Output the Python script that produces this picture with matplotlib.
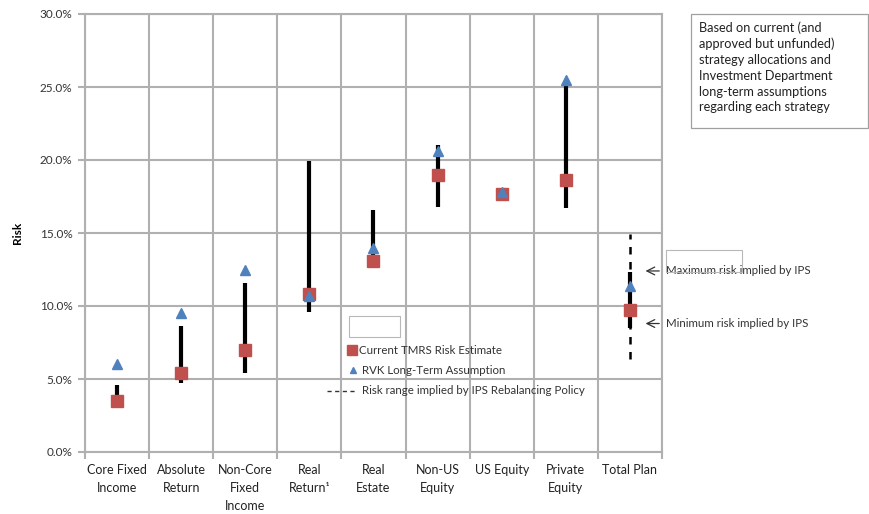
import matplotlib.pyplot as plt
from matplotlib.lines import Line2D
from matplotlib.patches import Rectangle

plt.rcParams['font.family'] = ['Lato', 'DejaVu Sans']

categories = ['Core Fixed\nIncome', 'Absolute\nReturn', 'Non-Core\nFixed\nIncome',
              'Real\nReturn\u00b9', 'Real\nEstate', 'Non-US\nEquity', 'US Equity',
              'Private\nEquity', 'Total Plan']
tmrs = [3.5, 5.4, 7.0, 10.8, 13.1, 19.0, 17.7, 18.6, 9.7]
rvk = [6.0, 9.5, 12.5, 10.7, 14.0, 20.6, 17.8, 25.5, 11.4]
range_low = [3.5, 4.7, 5.4, 9.6, 12.6, 16.8, 17.6, 16.7, 8.5]
range_high = [4.6, 8.6, 11.6, 19.9, 16.6, 21.0, 17.9, 25.4, 12.3]
ips_low = 6.4
ips_high = 14.9
yticks = [0, 5, 10, 15, 20, 25, 30]

W, H = 870, 514
fig = plt.figure(figsize=(W / 100, H / 100), dpi=100)
ax = fig.add_axes([85 / W, 1 - 452 / H, (662 - 85) / W, (452 - 14) / H])

grid_c = '#b0b0b0'
x = list(range(len(categories)))

# range bars
for i in x:
    ax.plot([i, i], [range_low[i], range_high[i]], color='black', lw=3, solid_capstyle='butt', zorder=3)
# IPS dashed range on total plan
ax.plot([8, 8], [ips_low, ips_high], color='black', lw=1.8, ls=(0, (3, 3)), zorder=2)

ax.plot(x, tmrs, ls='none', marker='s', ms=8.5, color='#c0504d', mec='#c0504d', zorder=4)
ax.plot(x, rvk, ls='none', marker='^', ms=6.5, color='#4f81bd', mec='#4f81bd', zorder=5)

ax.set_xlim(-0.5, 8.5)
ax.set_ylim(0, 30)
ax.set_yticks(yticks)
ax.set_yticklabels([f'{v:.1f}%' for v in yticks], fontsize=8.5, color='#333333')
ax.set_xticks(x)
ax.set_xticklabels(categories, fontsize=9, color='#222222', linespacing=1.6, va='top')
ax.set_xticks([i - 0.5 for i in range(len(categories) + 1)], minor=True)
ax.tick_params(axis='x', which='major', length=0, pad=9)
ax.tick_params(axis='x', which='minor', length=5, color=grid_c, width=1.5)
ax.tick_params(axis='y', length=5, color=grid_c, width=1.5, pad=4)
ax.grid(True, which='minor', axis='x', color=grid_c, lw=1.5)
ax.grid(True, which='major', axis='y', color=grid_c, lw=1.5)
ax.set_axisbelow(True)
for s in ax.spines.values():
    s.set_color(grid_c)
    s.set_linewidth(1.5)
ax.set_ylabel('Risk', fontsize=8.5, fontweight='bold', labelpad=12)

# IPS arrows
ax.annotate('', xy=(8.2, 12.4), xytext=(8.5, 12.4), annotation_clip=False,
            arrowprops=dict(arrowstyle='->', color='#333333', lw=0.9, mutation_scale=14))
ax.annotate('', xy=(8.2, 8.8), xytext=(8.5, 8.8), annotation_clip=False,
            arrowprops=dict(arrowstyle='->', color='#333333', lw=0.9, mutation_scale=14))
ax.text(8.57, 12.4, 'Maximum risk implied by IPS', fontsize=8.3, va='center', ha='left', color='#333333')
ax.text(8.57, 8.8, 'Minimum risk implied by IPS', fontsize=8.3, va='center', ha='left', color='#333333')


def fx(px):
    return px / W


def fy(py):
    return 1 - py / H


# empty text-box outlines
fig.add_artist(Rectangle((fx(666), fy(272)), fx(76), 22 / H, transform=fig.transFigure,
                         fill=False, ec='#b8b8b8', lw=0.8))
fig.add_artist(Rectangle((fx(349), fy(337)), fx(51), 21 / H, transform=fig.transFigure,
                         fill=False, ec='#b8b8b8', lw=0.8))

# legend drawn by hand
fig.add_artist(Line2D([fx(352)], [fy(350)], transform=fig.transFigure, ls='none', marker='s',
                      ms=7, color='#c0504d'))
fig.text(fx(359), fy(350), 'Current TMRS Risk Estimate', fontsize=8.3, va='center', color='#333333')
fig.add_artist(Line2D([fx(353)], [fy(370)], transform=fig.transFigure, ls='none', marker='^',
                      ms=5, color='#4f81bd'))
fig.text(fx(362), fy(370), 'RVK Long-Term Assumption', fontsize=8.3, va='center', color='#333333')
fig.add_artist(Line2D([fx(327), fx(355)], [fy(391), fy(391)], transform=fig.transFigure,
                      color='#333333', lw=1, ls=(0, (3, 2.5))))
fig.text(fx(362), fy(391), 'Risk range implied by IPS Rebalancing Policy', fontsize=8.3,
         va='center', color='#333333')

# note box
fig.add_artist(Rectangle((fx(691), fy(128)), fx(177), 114 / H, transform=fig.transFigure,
                         fill=False, ec='#a0a0a0', lw=0.9))
fig.text(fx(699), fy(21), 'Based on current (and\napproved but unfunded)\nstrategy allocations and\n'
         'Investment Department\nlong-term assumptions\nregarding each strategy',
         fontsize=9.2, va='top', ha='left', color='#222222', linespacing=1.38)

fig.savefig('out.png', dpi=100)
